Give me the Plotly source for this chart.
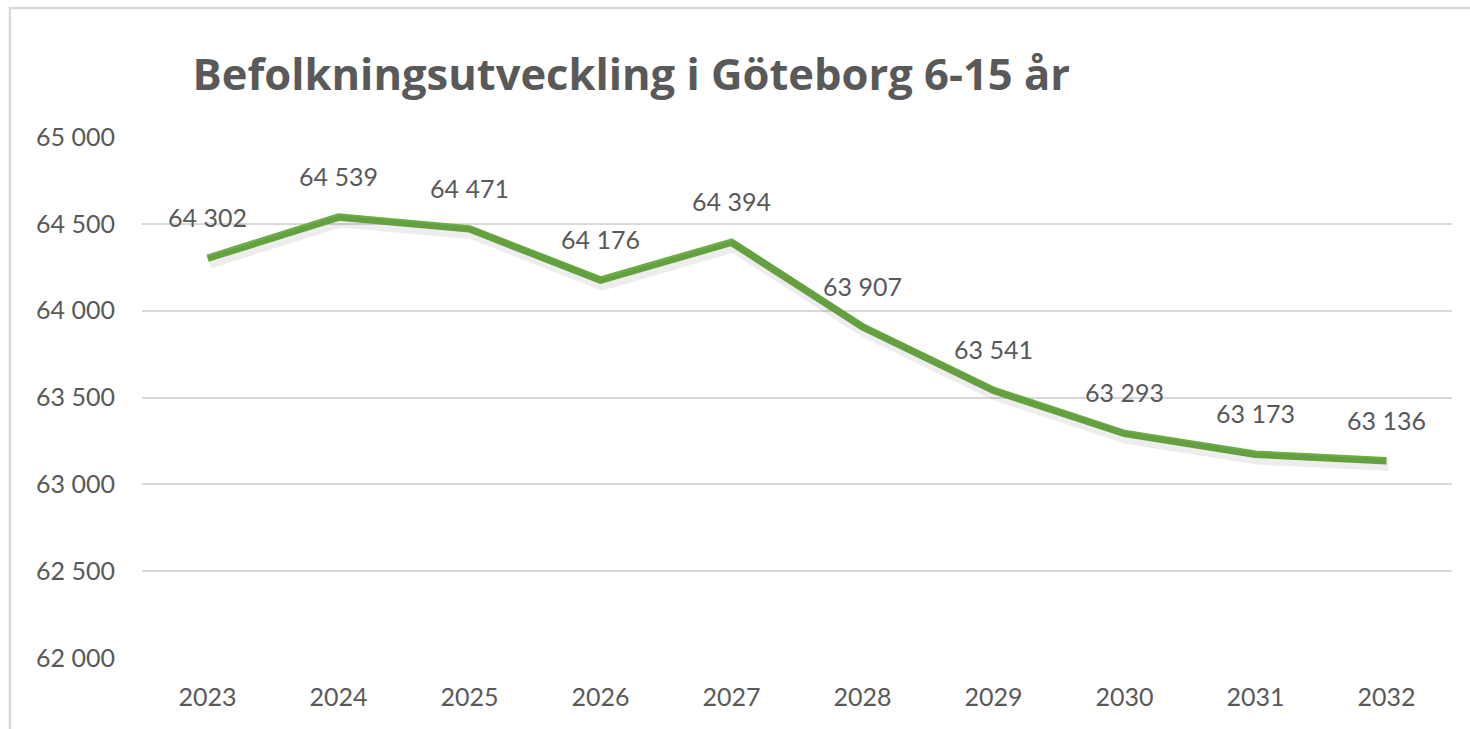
import plotly.graph_objects as go

YEARS = ["2023", "2024", "2025", "2026", "2027", "2028", "2029", "2030", "2031", "2032"]
POPULATION = [64302, 64539, 64471, 64176, 64394, 63907, 63541, 63293, 63173, 63136]
Y_TICKS = [62000, 62500, 63000, 63500, 64000, 64500, 65000]

TITLE = "Befolkningsutveckling i Göteborg 6-15 år"
GREEN = "#6CAD45"
TEXT_GRAY = "#595959"
GRID_GRAY = "#D9D9D9"
FONT = "Lato, 'Open Sans', sans-serif"
TITLE_FONT = "'Open Sans', Lato, sans-serif"


def fmt(v):
    return f"{v:,}".replace(",", "\u00a0")


fig = go.Figure()

# soft drop shadow under the line (same data, axes nudged a few pixels)
fig.add_trace(go.Scatter(
    x=YEARS, y=POPULATION,
    mode="lines",
    line=dict(color="rgba(0,0,0,0.07)", width=12),
    xaxis="x2", yaxis="y2",
    hoverinfo="skip", showlegend=False,
))
fig.add_trace(go.Scatter(
    x=YEARS, y=POPULATION,
    mode="lines",
    line=dict(color=GREEN, width=7.5),
    showlegend=False,
))

for i, val in enumerate(POPULATION):
    fig.add_annotation(
        x=i, y=val, xref="x", yref="y", text=fmt(val),
        showarrow=False, yshift=41,
        font=dict(family=FONT, size=25, color=TEXT_GRAY),
    )

# outer chart border
fig.add_shape(
    type="rect", xref="paper", yref="paper",
    x0=-0.1008, x1=1.2, y0=-0.4, y1=1.2476,
    line=dict(color=GRID_GRAY, width=2.5),
    fillcolor="rgba(0,0,0,0)", layer="below",
)

fig.update_layout(
    width=1470, height=729,
    margin=dict(l=142, r=18, t=137, b=71),
    paper_bgcolor="white", plot_bgcolor="white",
    title=dict(
        text=f"<b>{TITLE}</b>",
        xref="container", yref="container",
        x=0.131, y=0.897, xanchor="left", yanchor="middle",
        font=dict(family=TITLE_FONT, size=43.5, color=TEXT_GRAY),
    ),
    separators=", ",
    xaxis=dict(
        type="category", range=[-0.5, 9.5],
        showgrid=False, zeroline=False, showline=False,
        ticks="", ticklabelstandoff=22,
        tickfont=dict(family=FONT, size=25, color=TEXT_GRAY),
    ),
    yaxis=dict(
        range=[62000, 65000], tickvals=Y_TICKS, tickformat=",d",
        showgrid=True, gridcolor=GRID_GRAY, gridwidth=2,
        zeroline=False, showline=False,
        ticks="", ticklabelstandoff=26,
        tickfont=dict(family=FONT, size=25, color=TEXT_GRAY),
    ),
    xaxis2=dict(
        type="category", range=[-0.515, 9.485], overlaying="x",
        visible=False,
    ),
    yaxis2=dict(
        range=[62025, 65025], overlaying="y",
        visible=False,
    ),
)

fig.write_html(
    "out.html",
    config={"displayModeBar": False},
    post_script="document.body.style.margin='0';",
)
